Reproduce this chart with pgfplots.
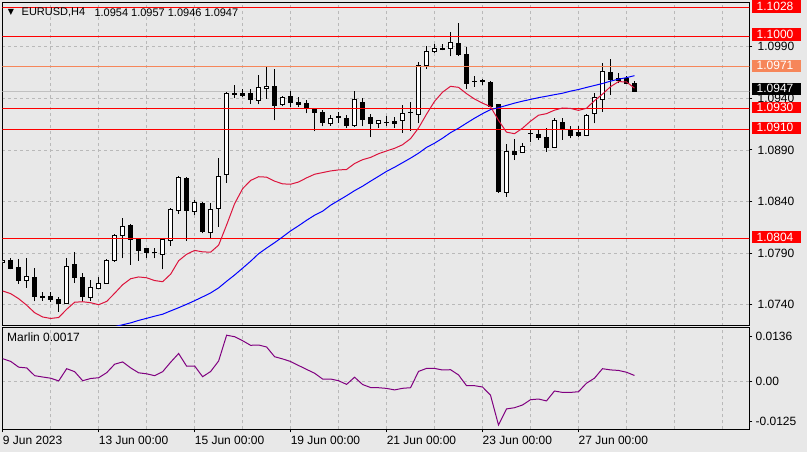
\documentclass[border=0pt]{standalone}
\usepackage{fontspec}
\setmainfont{Liberation Sans}
\newfontfamily\dejavu{DejaVu Sans}
\usepackage{pgfplots}
\usepackage{pgfplotstable}
\pgfplotsset{compat=1.18}
\definecolor{bg}{RGB}{232,232,232}
\definecolor{gridc}{RGB}{185,185,185}
\definecolor{lvlred}{RGB}{255,0,0}
\definecolor{lvlorange}{RGB}{246,134,90}
\definecolor{maRed}{RGB}{220,20,60}
\definecolor{maBlue}{RGB}{0,0,255}
\definecolor{ind}{RGB}{128,0,128}
\definecolor{bidgray}{RGB}{192,192,192}

\pgfplotstableread{
k O H L C
0 1.07807 1.07846 1.07797 1.07833
1 1.07826 1.07855 1.07742 1.07752
2 1.07765 1.07843 1.07603 1.07635
3 1.07630 1.07853 1.07565 1.07678
4 1.07668 1.07756 1.07432 1.07480
5 1.07477 1.07526 1.07436 1.07473
6 1.07484 1.07519 1.07426 1.07451
7 1.07448 1.07471 1.07332 1.07413
8 1.07407 1.07849 1.07405 1.07775
9 1.07788 1.07914 1.07610 1.07662
10 1.07659 1.07710 1.07436 1.07480
11 1.07471 1.07639 1.07439 1.07571
12 1.07555 1.07671 1.07548 1.07601
13 1.07606 1.07843 1.07601 1.07826
14 1.07826 1.08088 1.07817 1.08075
15 1.08066 1.08243 1.07849 1.08153
16 1.08163 1.08185 1.07785 1.08027
17 1.08027 1.08049 1.07826 1.07926
18 1.07940 1.07952 1.07855 1.07907
19 1.07909 1.07952 1.07849 1.07907
20 1.07891 1.08042 1.07742 1.08030
21 1.08023 1.08340 1.07969 1.08318
22 1.08308 1.08650 1.08279 1.08628
23 1.08618 1.08634 1.08017 1.08308
24 1.08301 1.08415 1.08265 1.08388
25 1.08379 1.08391 1.08091 1.08114
26 1.08104 1.08388 1.08033 1.08323
27 1.08337 1.08824 1.08153 1.08647
28 1.08657 1.09464 1.08582 1.09442
29 1.09432 1.09532 1.09399 1.09451
30 1.09445 1.09490 1.09409 1.09428
31 1.09442 1.09493 1.09348 1.09389
32 1.09380 1.09626 1.09341 1.09509
33 1.09496 1.09713 1.09396 1.09519
34 1.09512 1.09684 1.09186 1.09328
35 1.09341 1.09422 1.09322 1.09403
36 1.09415 1.09467 1.09319 1.09360
37 1.09360 1.09409 1.09312 1.09338
38 1.09354 1.09380 1.09254 1.09302
39 1.09296 1.09302 1.09079 1.09263
40 1.09260 1.09287 1.09127 1.09168
41 1.09157 1.09234 1.09134 1.09209
42 1.09228 1.09270 1.09164 1.09209
43 1.09202 1.09234 1.09112 1.09134
44 1.09132 1.09474 1.09122 1.09384
45 1.09364 1.09406 1.09128 1.09199
46 1.09212 1.09248 1.09024 1.09157
47 1.09151 1.09183 1.09112 1.09180
48 1.09164 1.09225 1.09132 1.09168
49 1.09173 1.09222 1.09115 1.09154
50 1.09180 1.09335 1.09067 1.09248
51 1.09262 1.09364 1.09086 1.09265
52 1.09244 1.09748 1.09157 1.09713
53 1.09713 1.09910 1.09687 1.09858
54 1.09849 1.09922 1.09842 1.09887
55 1.09874 1.09926 1.09864 1.09878
56 1.09887 1.10045 1.09806 1.09936
57 1.09929 1.10126 1.09810 1.09822
58 1.09822 1.09897 1.09490 1.09544
59 1.09561 1.09616 1.09512 1.09558
60 1.09571 1.09590 1.09525 1.09566
61 1.09551 1.09564 1.09314 1.09319
62 1.09335 1.09348 1.08485 1.08495
63 1.08488 1.08957 1.08446 1.08880
64 1.08889 1.09009 1.08802 1.08856
65 1.08870 1.08963 1.08868 1.08931
66 1.09060 1.09099 1.08973 1.09062
67 1.09047 1.09093 1.08996 1.09018
68 1.09018 1.09112 1.08883 1.08924
69 1.08921 1.09205 1.08918 1.09180
70 1.09170 1.09212 1.08996 1.09093
71 1.09099 1.09132 1.09011 1.09038
72 1.09064 1.09132 1.09028 1.09038
73 1.09035 1.09244 1.09033 1.09238
74 1.09248 1.09454 1.09157 1.09403
75 1.09389 1.09738 1.09270 1.09658
76 1.09651 1.09777 1.09432 1.09580
77 1.09595 1.09648 1.09546 1.09577
78 1.09587 1.09619 1.09539 1.09544
79 1.09540 1.09570 1.09460 1.09470
}\candles

\pgfplotstableread{
k v
0 1.07533
1 1.07507
2 1.07458
3 1.07395
4 1.07322
5 1.07281
6 1.07267
7 1.07276
8 1.07356
9 1.07424
10 1.07429
11 1.07419
12 1.07400
13 1.07432
14 1.07511
15 1.07594
16 1.07652
17 1.07669
18 1.07661
19 1.07634
20 1.07623
21 1.07696
22 1.07826
23 1.07889
24 1.07926
25 1.07912
26 1.07909
27 1.07977
28 1.08173
29 1.08379
30 1.08524
31 1.08604
32 1.08640
33 1.08636
34 1.08597
35 1.08571
36 1.08567
37 1.08589
38 1.08629
39 1.08664
40 1.08680
41 1.08696
42 1.08706
43 1.08710
44 1.08768
45 1.08805
46 1.08827
47 1.08863
48 1.08890
49 1.08915
50 1.08950
51 1.09009
52 1.09112
53 1.09246
54 1.09370
55 1.09459
56 1.09516
57 1.09506
58 1.09445
59 1.09393
60 1.09353
61 1.09319
62 1.09186
63 1.09072
64 1.09057
65 1.09110
66 1.09178
67 1.09236
68 1.09251
69 1.09285
70 1.09306
71 1.09302
72 1.09283
73 1.09303
74 1.09377
75 1.09440
76 1.09512
77 1.09561
78 1.09559
79 1.09498
}\redma

\pgfplotstableread{
k v
13 1.07170
14 1.07187
15 1.07206
16 1.07224
17 1.07248
18 1.07268
19 1.07289
20 1.07308
21 1.07340
22 1.07371
23 1.07404
24 1.07439
25 1.07476
26 1.07514
27 1.07563
28 1.07627
29 1.07688
30 1.07754
31 1.07821
32 1.07894
33 1.07949
34 1.08001
35 1.08057
36 1.08115
37 1.08165
38 1.08218
39 1.08267
40 1.08306
41 1.08364
42 1.08410
43 1.08456
44 1.08505
45 1.08548
46 1.08597
47 1.08644
48 1.08692
49 1.08732
50 1.08776
51 1.08820
52 1.08868
53 1.08924
54 1.08965
55 1.09013
56 1.09067
57 1.09110
58 1.09159
59 1.09207
60 1.09251
61 1.09290
62 1.09309
63 1.09331
64 1.09353
65 1.09372
66 1.09389
67 1.09406
68 1.09420
69 1.09435
70 1.09449
71 1.09469
72 1.09485
73 1.09505
74 1.09524
75 1.09543
76 1.09566
77 1.09585
78 1.09600
79 1.09619
}\bluema

\pgfplotstableread{
k v
0 0.00685
1 0.00602
2 0.00424
3 0.00402
4 0.00163
5 0.00123
6 0.00086
7 0.00003
8 0.00378
9 0.00286
10 0.00009
11 0.00077
12 0.00101
13 0.00255
14 0.00516
15 0.00586
16 0.00402
17 0.00252
18 0.00221
19 0.00163
20 0.00286
21 0.00577
22 0.00844
23 0.00454
24 0.00461
25 0.00132
26 0.00292
27 0.00614
28 0.01406
29 0.01360
30 0.01237
31 0.01096
32 0.01105
33 0.01044
34 0.00746
35 0.00678
36 0.00599
37 0.00476
38 0.00356
39 0.00239
40 0.00061
41 0.00061
42 0.00009
43 -0.00104
44 0.00117
45 -0.00107
46 -0.00200
47 -0.00206
48 -0.00227
49 -0.00273
50 -0.00224
51 -0.00206
52 0.00295
53 0.00387
54 0.00387
55 0.00338
56 0.00347
57 0.00187
58 -0.00144
59 -0.00144
60 -0.00184
61 -0.00436
62 -0.01351
63 -0.00857
64 -0.00820
65 -0.00737
66 -0.00574
67 -0.00553
68 -0.00611
69 -0.00307
70 -0.00350
71 -0.00350
72 -0.00329
73 -0.00068
74 0.00086
75 0.00378
76 0.00341
77 0.00325
78 0.00270
79 0.00170
}\marlin

\pgfplotsset{
  mainbox/.style={
    at={(3,435.3)}, anchor=north west, scale only axis,
    width=747pt, height=323pt,
    xmin=-0.04, xmax=93.375, ymin=1.071965, ymax=1.10326,
    scaled y ticks=false, scaled x ticks=false,
  },
  lbl/.style={font=\fontsize{12}{14}\selectfont},
}

\begin{document}
\begin{tikzpicture}[x=1pt,y=1pt]
\fill[bg] (0,0) rectangle (807,452);
\useasboundingbox (0,0) rectangle (807,452);

% ---------- main panel: frame, grid, wicks
\begin{axis}[mainbox, name=main,
  axis line style={black, line width=0.9pt},
  xtick={6,12,...,90}, xticklabel=\empty, xtick style={draw=none},
  ytick={1.074,1.079,1.084,1.089,1.094,1.099},
  yticklabels={1.0740,1.0790,1.0840,1.0890,1.0940,1.0990},
  ytick pos=right, yticklabel pos=right,
  tick align=outside, major tick length=3pt,
  ytick style={black, line width=0.8pt},
  yticklabel style={lbl, anchor=west, inner sep=0pt, xshift=5pt},
  grid=major,
  major grid style={gridc, dash pattern=on 3pt off 3pt, line width=0.7pt},
]
\addplot[bidgray, line width=1pt] coordinates {(-1,1.0947) (95,1.0947)};
\addplot[mark=none, draw=none, forget plot,
  error bars/.cd, y dir=plus, y explicit, error mark=none,
  error bar style={draw=black, line width=1pt}]
  table[x=k, y=L, y error expr=\thisrow{H}-\thisrow{L}]{\candles};
\end{axis}

% ---------- candle bodies
\begin{axis}[mainbox, hide axis, ybar stacked, bar width=4pt]
\addplot[draw=none, fill=none] table[x=k, y expr={min(\thisrow{O},\thisrow{C})}]{\candles};
\addplot[fill=black, draw=black, line width=1pt] table[x=k, y expr={max(\thisrow{O}-\thisrow{C},0)}]{\candles};
\addplot[fill=white, draw=black, line width=1pt] table[x=k, y expr={max(\thisrow{C}-\thisrow{O},0)}]{\candles};
\end{axis}

% ---------- levels and moving averages
\begin{axis}[mainbox, hide axis]
\addplot[lvlred, line width=1.2pt] coordinates {(-1,1.1028) (95,1.1028)};
\addplot[lvlred, line width=1.2pt] coordinates {(-1,1.1000) (95,1.1000)};
\addplot[lvlorange, line width=1.2pt] coordinates {(-1,1.0971) (95,1.0971)};
\addplot[lvlred, line width=1.2pt] coordinates {(-1,1.0930) (95,1.0930)};
\addplot[lvlred, line width=1.2pt] coordinates {(-1,1.0910) (95,1.0910)};
\addplot[lvlred, line width=1.2pt] coordinates {(-1,1.0804) (95,1.0804)};
\addplot[maBlue, line width=1pt] table[x=k, y=v]{\bluema};
\addplot[maRed, line width=1pt] table[x=k, y=v]{\redma};
\end{axis}

% ---------- indicator panel
\begin{axis}[
  at={(main.south west)}, anchor=north west, yshift=-2pt, scale only axis,
  width=747pt, height=101.7pt,
  xmin=-0.04, xmax=93.375, ymin=-0.01486, ymax=0.01636,
  scaled y ticks=false, scaled x ticks=false,
  axis line style={black, line width=0.9pt},
  xtick={0,12,...,72},
  xticklabels={9 Jun 2023,13 Jun 00:00,15 Jun 00:00,19 Jun 00:00,21 Jun 00:00,23 Jun 00:00,27 Jun 00:00},
  minor xtick={6,18,30,42,54,66,78,84,90},
  xtick pos=bottom,
  xticklabel style={lbl, anchor=west, inner sep=0pt, yshift=-8pt},
  ytick={0}, yticklabels={0.00},
  extra y ticks={-0.0125,0.0136}, extra y tick labels={-0.0125,0.0136},
  extra y tick style={grid=none},
  ytick pos=right, yticklabel pos=right,
  yticklabel style={lbl, anchor=west, inner sep=0pt, xshift=3pt},
  tick align=outside, major tick length=3pt, minor tick length=0pt,
  tick style={black, line width=0.8pt},
  grid=both,
  major grid style={gridc, dash pattern=on 3pt off 3pt, line width=0.7pt},
  minor grid style={gridc, dash pattern=on 3pt off 3pt, line width=0.7pt},
]
\addplot[ind, line width=1pt] table[x=k, y=v]{\marlin};
\end{axis}

% ---------- price labels on the right
\begin{scope}[font=\fontsize{12}{14}\selectfont]
\fill[lvlred] (752,439.4) rectangle (801,452);
\node[anchor=west, inner sep=0, text=white] at (756.5,445.2) {1.1028};
\fill[lvlred] (752,411.3) rectangle (801,423.7);
\node[anchor=west, inner sep=0, text=white] at (756.5,417.5) {1.1000};
\fill[lvlorange] (752,380.3) rectangle (801,392);
\node[anchor=west, inner sep=0, text=white] at (756.5,386.2) {1.0971};
\fill[black] (752,357) rectangle (801,369.3);
\node[anchor=west, inner sep=0, text=white] at (756.5,363.2) {1.0947};
\fill[lvlred] (752,338.7) rectangle (801,350.3);
\node[anchor=west, inner sep=0, text=white] at (756.5,344.5) {1.0930};
\fill[lvlred] (752,318) rectangle (801,330.3);
\node[anchor=west, inner sep=0, text=white] at (756.5,324.2) {1.0910};
\fill[lvlred] (752,208.8) rectangle (801,221.2);
\node[anchor=west, inner sep=0, text=white] at (756.5,215) {1.0804};
\end{scope}

% ---------- header texts
\node[anchor=center, inner sep=0, font=\dejavu\fontsize{8}{9}\selectfont] at (11,439.5) {▼};
\node[anchor=west, inner sep=0, font=\fontsize{11}{13}\selectfont] at (21.5,439.5) {EURUSD,H4};
\node[anchor=west, inner sep=0, font=\fontsize{11}{13}\selectfont] at (94.3,439.5) {1.0954 1.0957 1.0946 1.0947};
\node[anchor=west, inner sep=0, font=\fontsize{12}{14}\selectfont] at (7,114.7) {Marlin 0.0017};
\end{tikzpicture}
\end{document}
